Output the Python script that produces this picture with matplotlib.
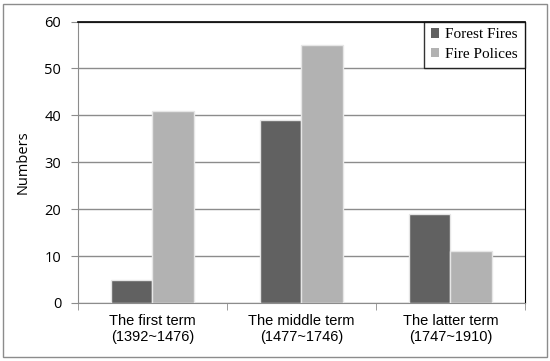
import numpy as np
import matplotlib.pyplot as plt
from matplotlib.patches import Rectangle

categories = ["The first term\n(1392~1476)", "The middle term\n(1477~1746)", "The latter term\n(1747~1910)"]
forest_fires = [5, 39, 19]
fire_polices = [41, 55, 11]


def draw_chart():
    plt.rcParams["font.family"] = ["Liberation Sans", "DejaVu Sans"]
    fig = plt.figure(figsize=(5.5, 3.61), dpi=100)
    ax = fig.add_axes([0.1418, 0.1607, 0.8127, 0.7797])

    x = np.arange(len(categories))
    w = 0.28
    ax.bar(x - w / 2, forest_fires, w, color="#616161", edgecolor="#e6e6e6",
           linewidth=1.0, label="Forest Fires", zorder=3)
    ax.bar(x + w / 2, fire_polices, w, color="#b2b2b2", edgecolor="#e6e6e6",
           linewidth=1.0, label="Fire Polices", zorder=3)

    ax.set_xlim(-0.5, 2.5)
    ax.set_ylim(0, 60)
    ax.set_yticks(np.arange(0, 61, 10))
    ax.yaxis.grid(True, color="#8c8c8c", linewidth=1.0, zorder=0)
    ax.set_xticks(x)
    ax.set_xticklabels(categories, fontsize=10.5, linespacing=1.15)
    ax.tick_params(axis="x", length=0, pad=8)
    ax.set_xticks([-0.5, 0.5, 1.5, 2.5], minor=True)
    ax.tick_params(axis="x", which="minor", length=5, color="#8c8c8c")
    ax.tick_params(axis="y", labelsize=10.5, length=5, pad=7, color="#8c8c8c")
    for lbl in ax.get_yticklabels():
        lbl.set_fontfamily("Open Sans")
    ax.set_ylabel("Numbers", fontsize=10.5, family="Open Sans", labelpad=10)

    for side in ["left", "bottom"]:
        ax.spines[side].set_color("#8c8c8c")
    ax.spines["top"].set_color("black")
    ax.spines["right"].set_color("black")
    ax.spines["top"].set_linewidth(1.2)

    leg = ax.legend(loc="upper right", prop={"family": "Liberation Serif", "size": 11},
                    frameon=True, fancybox=False, edgecolor="black",
                    handlelength=0.55, handleheight=0.55, handletextpad=0.4,
                    borderaxespad=0.0, borderpad=0.45, labelspacing=0.45)
    leg.get_frame().set_linewidth(1.0)
    for h in leg.legend_handles:
        h.set_edgecolor("none")

    fig.patches.append(Rectangle((0.006, 0.01), 0.988, 0.98, transform=fig.transFigure,
                                 fill=False, edgecolor="#8c8c8c", linewidth=1.0))

    plt.savefig("out.png", dpi=100)


if __name__ == "__main__":
    draw_chart()
